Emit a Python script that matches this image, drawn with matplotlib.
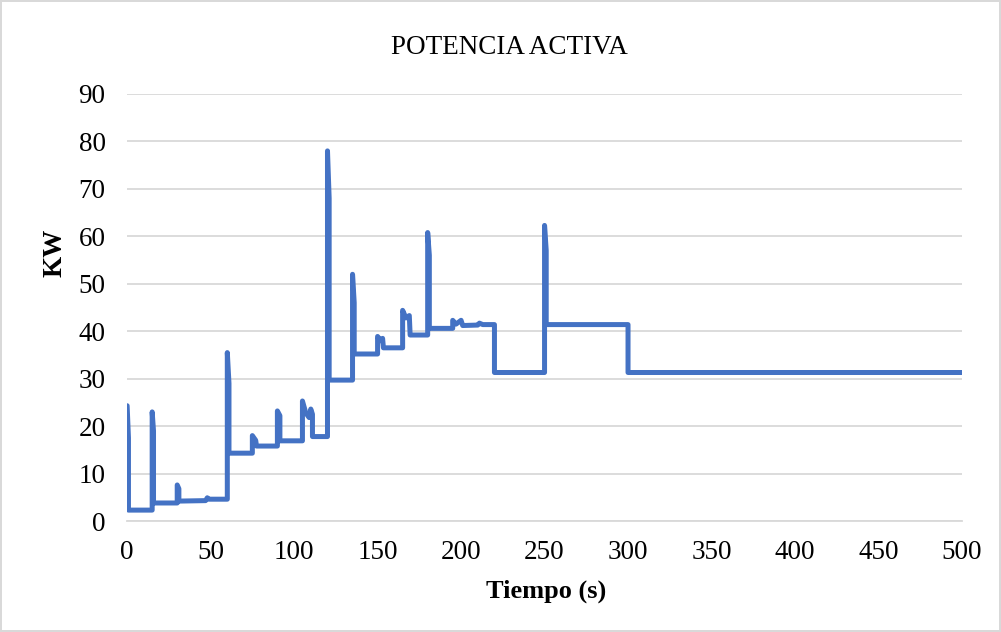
import matplotlib.pyplot as plt

# potencia activa vs tiempo
tiempo = [0, 0.8, 0.8, 15, 15, 15.8, 15.8, 30, 30, 31, 31, 47, 48, 49, 60,
          60, 61, 61, 75, 75, 77, 77.5, 90, 90, 91.5, 91.5, 105, 105, 107,
          109, 110, 111, 111, 120, 120, 121, 121, 135, 135, 136, 136, 150,
          150, 152, 153, 153.5, 165, 165, 167, 169, 169.5, 180, 180, 181,
          181, 195, 195, 197, 200, 201, 210, 211, 213, 220, 220, 250, 250,
          251, 251, 300, 300, 500]
potencia = [24.3, 17.5, 2.3, 2.3, 23.0, 19.0, 3.8, 3.8, 7.6, 6.8, 4.2, 4.3,
            4.9, 4.6, 4.6, 35.5, 29.0, 14.3, 14.3, 18.0, 17.0, 15.8, 15.8,
            23.2, 22.2, 16.9, 16.9, 25.3, 22.8, 21.8, 23.6, 22.5, 17.8, 17.8,
            78.0, 68.0, 29.7, 29.7, 52.0, 46.0, 35.2, 35.2, 38.9, 38.0, 38.5,
            36.5, 36.5, 44.4, 42.8, 43.3, 39.2, 39.2, 60.8, 56.0, 40.6, 40.6,
            42.3, 41.5, 42.3, 41.2, 41.3, 41.7, 41.4, 41.4, 31.3, 31.3, 62.3,
            57.0, 41.4, 41.4, 31.3, 31.3]

xticks = list(range(0, 501, 50))
yticks = list(range(0, 91, 10))

plt.rcParams['font.family'] = ['Liberation Serif', 'DejaVu Serif']

fig = plt.figure(figsize=(10.01, 6.32), dpi=100)
fig.patch.set_edgecolor('#d9d9d9')
fig.patch.set_linewidth(1.5)
ax = fig.add_axes([0.127, 0.1756, 0.834, 0.6757])

ax.plot(tiempo, potencia, color='#4472C4', linewidth=3.6,
        solid_capstyle='round', solid_joinstyle='round', zorder=3)

ax.set_xlim(0, 500)
ax.set_ylim(0, 90)
ax.set_xticks(xticks)
ax.set_yticks(yticks)
ax.tick_params(axis='both', length=0, labelsize=19.5)
ax.tick_params(axis='y', pad=15.5)
ax.tick_params(axis='x', pad=14)
ax.yaxis.grid(True, color='#d9d9d9', linewidth=1.3)
ax.set_axisbelow(True)
for s in ['top', 'right', 'left']:
    ax.spines[s].set_visible(False)
ax.spines['bottom'].set_color('#d9d9d9')
ax.spines['bottom'].set_linewidth(1.3)

ax.set_xlabel('Tiempo (s)', fontsize=19, fontweight='bold')
ax.xaxis.set_label_coords(0.502, -0.138)
ax.set_ylabel('KW', fontsize=19.5, fontweight='bold')
ax.yaxis.set_label_coords(-0.072, 0.628)

fig.text(0.509, 1 - 47 / 632, 'POTENCIA ACTIVA', ha='center', va='center',
         fontsize=19.5)

plt.savefig('out.png', dpi=100)
